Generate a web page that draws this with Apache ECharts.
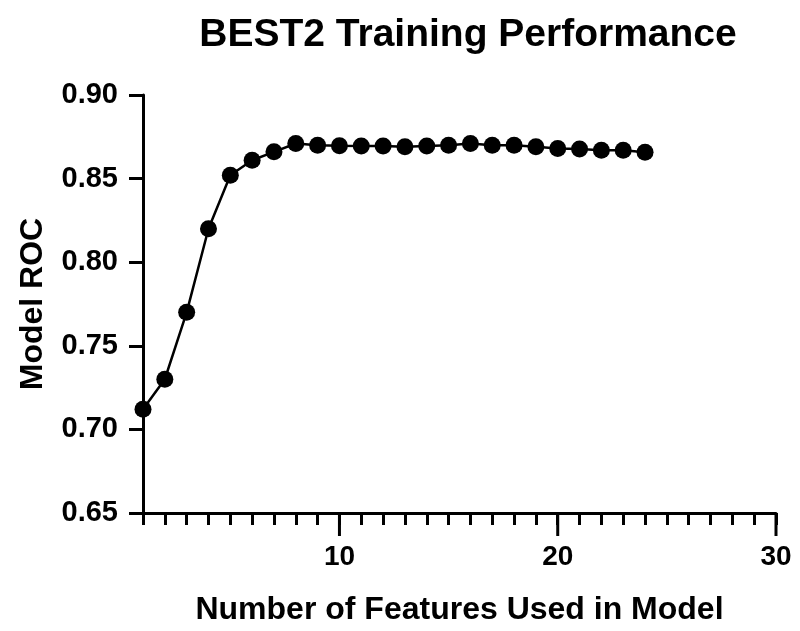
<!DOCTYPE html>
<html><head><meta charset="utf-8">
<script src="https://cdn.jsdelivr.net/npm/echarts@6/dist/echarts.min.js"></script>
<style>html,body{margin:0;padding:0;background:#fff}#c{width:800px;height:631px}</style>
</head><body><div id="c"></div>
<script>
const features = [1,2,3,4,5,6,7,8,9,10,11,12,13,14,15,16,17,18,19,20,21,22,23,24];
const rocValues = [0.712,0.730,0.770,0.820,0.852,0.861,0.866,0.871,0.870,0.8697,0.8695,0.8695,0.869,0.8695,0.870,0.871,0.870,0.870,0.869,0.868,0.8677,0.867,0.867,0.8657];
const xRange = [1,30];
const xMajorTicks = [10,20,30];
const yTicks = [0.65,0.70,0.75,0.80,0.85,0.90];

const chart = echarts.init(document.getElementById('c'));
const font = 'Liberation Sans, Arial, sans-serif';
const MAJOR_LEN = 23;
const option = {
  animation:false,
  title:{text:'BEST2 Training Performance',left:463,top:11,textAlign:'center',
    textStyle:{fontFamily:font,fontWeight:'bold',fontSize:39,color:'#000'}},
  grid:{left:143,right:24,top:95,bottom:118,outerBoundsMode:'none',containLabel:false},
  xAxis:{
    type:'value',min:xRange[0],max:xRange[1],interval:1,
    axisLine:{lineStyle:{color:'#000',width:3}},
    axisTick:{length:12,lineStyle:{color:'#000',width:3}},
    axisLabel:{margin:30,formatter:v=>xMajorTicks.indexOf(v)>=0?String(v):'',
      fontFamily:font,fontWeight:'bold',fontSize:28,color:'#000'},
    splitLine:{show:false},
    name:'Number of Features Used in Model',nameLocation:'middle',nameGap:81,
    nameTextStyle:{fontFamily:font,fontWeight:'bold',fontSize:32,color:'#000'}
  },
  yAxis:{
    type:'value',min:yTicks[0],max:yTicks[yTicks.length-1],interval:0.05,
    axisLine:{show:true,lineStyle:{color:'#000',width:3}},
    axisTick:{show:true,length:14,lineStyle:{color:'#000',width:3}},
    axisLabel:{margin:25,formatter:v=>v.toFixed(2),fontFamily:font,fontWeight:'bold',fontSize:29,color:'#000'},
    splitLine:{show:false},
    name:'Model ROC',nameLocation:'middle',nameGap:94,nameRotate:90,
    nameTextStyle:{fontFamily:font,fontWeight:'bold',fontSize:32,color:'#000'}
  },
  series:[{
    type:'line',
    data:features.map((f,i)=>[f,rocValues[i]]),
    symbol:'circle',symbolSize:17,
    itemStyle:{color:'#000'},
    lineStyle:{color:'#000',width:2.5},
    z:5
  },{
    type:'custom',clip:false,silent:true,z:10,
    data:xMajorTicks.map(v=>[v,yTicks[0]]),
    renderItem:function(params,api){
      const p = api.coord([api.value(0),api.value(1)]);
      return {type:'line',shape:{x1:p[0],y1:p[1],x2:p[0],y2:p[1]+MAJOR_LEN},
        style:{stroke:'#000',lineWidth:3}};
    }
  }]
};
chart.setOption(option);
chart.setOption({graphic:[{type:'text',left:-100,top:-100,style:{text:' ',fill:'#fff'}}]});
</script></body></html>
